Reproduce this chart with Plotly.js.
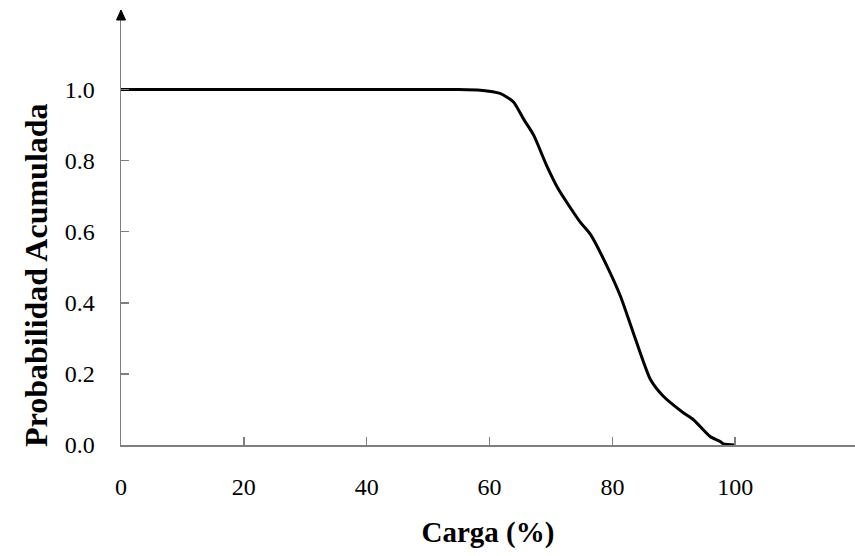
<!DOCTYPE html>
<html>
<head>
<meta charset="utf-8">
<script src="https://cdn.plot.ly/plotly-3.0.1.min.js"></script>
<style>html,body{margin:0;padding:0;background:#fff;}#chart{width:855px;height:556px;}</style>
</head>
<body>
<div id="chart"></div>
<script>
const carga = [0, 20, 40, 50, 55, 58.5, 61.7, 63.9, 65.5, 67.2, 69.3, 71.2, 74.8, 76.4, 79.1, 81.3, 83.4, 86.2, 88.3, 91.6, 93.2, 95.9, 97.6, 98.1, 100];
const probAcum = [1, 1, 1, 1, 1, 0.998, 0.989, 0.965, 0.918, 0.871, 0.786, 0.720, 0.626, 0.593, 0.504, 0.419, 0.316, 0.184, 0.137, 0.090, 0.071, 0.024, 0.009, 0.003, 0];
const xTicks = [0, 20, 40, 60, 80, 100];
const yTicks = [0, 0.2, 0.4, 0.6, 0.8, 1.0];
const xTitle = 'Carga (%)';
const yTitle = 'Probabilidad Acumulada';

const axisColor = '#7f7f7f';
const fontFam = '"Liberation Serif", "Times New Roman", serif';

const trace = {
  x: carga, y: probAcum, type: 'scatter', mode: 'lines',
  line: {color: '#000', width: 3, shape: 'spline', smoothing: 0.6},
  hoverinfo: 'skip'
};

const yMax = 1.2236;
const layout = {
  width: 855, height: 556,
  margin: {l: 121, r: 0, t: 10, b: 111, pad: 0},
  paper_bgcolor: '#fff', plot_bgcolor: '#fff',
  showlegend: false,
  font: {family: fontFam, color: '#000'},
  xaxis: {
    range: [0, 119.5], tickvals: xTicks, ticktext: xTicks.map(String),
    showgrid: false, zeroline: false, showline: true, linecolor: axisColor, linewidth: 1.5,
    ticks: 'inside', ticklen: 8, tickwidth: 1.5, tickcolor: axisColor,
    tickfont: {family: fontFam, size: 24, color: '#000'}, ticklabelstandoff: 20,
    title: {text: xTitle, font: {family: fontFam, size: 29, color: '#000', weight: 'bold'}, standoff: 22},
    automargin: false, fixedrange: true
  },
  yaxis: {
    range: [0, yMax], tickvals: yTicks, ticktext: yTicks.map(v => v.toFixed(1)),
    showgrid: false, zeroline: false, showline: true, linecolor: axisColor, linewidth: 1.5,
    ticks: 'inside', ticklen: 8, tickwidth: 1.5, tickcolor: axisColor,
    tickfont: {family: fontFam, size: 24, color: '#000'}, ticklabelstandoff: 20,
    automargin: false, fixedrange: true
  },
  shapes: [{
    type: 'path', xref: 'paper', yref: 'paper',
    xsizemode: 'pixel', ysizemode: 'pixel', xanchor: 0, yanchor: 1,
    path: 'M -4.5,-10 L 4.5,-10 L 0,0 Z',
    fillcolor: '#000', line: {color: '#000', width: 1}, layer: 'above'
  }],
  annotations: [
    {
      xref: 'paper', yref: 'paper', x: -0.1158, y: 0.391,
      xanchor: 'center', yanchor: 'middle', textangle: -90, showarrow: false,
      text: yTitle, font: {family: fontFam, size: 32, color: '#000', weight: 'bold'}
    }
  ]
};

Plotly.newPlot('chart', [trace], layout, {displayModeBar: false, staticPlot: true});
</script>
</body>
</html>
